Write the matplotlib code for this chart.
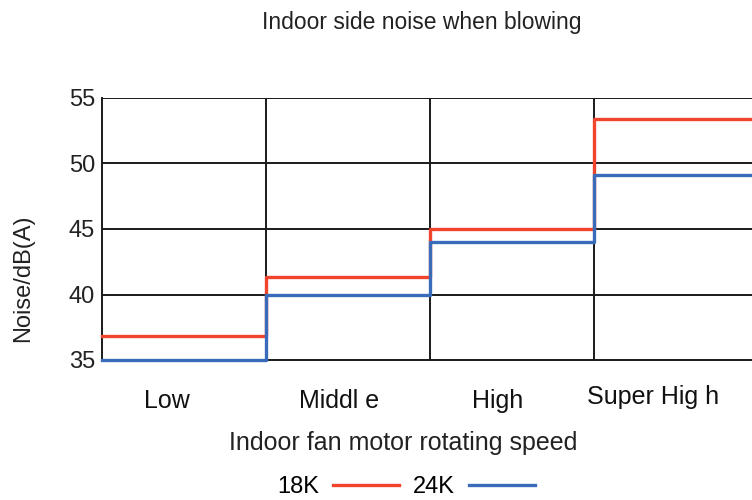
import matplotlib
matplotlib.use("Agg")
import matplotlib.pyplot as plt
from matplotlib.lines import Line2D
import matplotlib.transforms as mtransforms

plt.rcParams['font.family'] = ['Liberation Sans', 'DejaVu Sans']

categories = ["Low", "Middl e", "High", "Super Hig h"]
series_names = ["18K", "24K"]
noise_18k = [36.8, 41.3, 45.0, 53.4]
noise_24k = [35.0, 40.0, 44.0, 49.1]
yticks = [35, 40, 45, 50, 55]

red = "#F0442C"
blue = "#3A6BBA"

fig = plt.figure(figsize=(7.52, 5.0), dpi=100)
ax = fig.add_axes([102/752, 1-360/500, 656/752, 262/500])

n = len(categories)
xs = list(range(n + 1))
ax.step(xs, noise_18k + [noise_18k[-1]], where='post', color=red, lw=2.4, zorder=3, clip_on=False)
ax.step(xs, noise_24k + [noise_24k[-1]], where='post', color=blue, lw=2.4, zorder=4, clip_on=False)

ax.set_xlim(0, n)
ax.set_ylim(35, 55)
ax.set_yticks(yticks)
ax.set_yticklabels([str(t) for t in yticks], fontsize=17, color="#222222")
ax.tick_params(axis='y', length=0, pad=5)
ax.set_xticks([])

for y in yticks[1:]:
    ax.axhline(y, color='#1a1a1a', lw=1.4, zorder=1)
for x in range(1, n):
    ax.axvline(x, color='#1a1a1a', lw=1.4, zorder=1)

for s in ['top', 'right']:
    ax.spines[s].set_visible(False)
ax.spines['left'].set_color('#1a1a1a')
ax.spines['left'].set_linewidth(1.4)
ax.spines['bottom'].set_color('#1a1a1a')
ax.spines['bottom'].set_linewidth(1.4)

trans = mtransforms.blended_transform_factory(ax.transData, ax.transAxes)
label_x = [0.396, 1.445, 2.41, 3.36]
label_y = [-0.157, -0.157, -0.157, -0.142]
for lx, ly, lab in zip(label_x, label_y, categories):
    ax.text(lx, ly, lab, transform=trans, ha='center', va='center', fontsize=18, color='#111111')

ax.set_ylabel("Noise/dB(A)", fontsize=17, color="#222222")
ax.yaxis.set_label_coords(-0.104, 0.313)

fig.text(422/752, 1-22/500, "Indoor side noise when blowing", ha='center', va='center', fontsize=16.5, color='#222222')
fig.text(403/752, 1-443/500, "Indoor fan motor rotating speed", ha='center', va='center', fontsize=18, color='#222222')

handles = [Line2D([], [], color=red, lw=2.4), Line2D([], [], color=blue, lw=2.4)]
fig.legend(handles, series_names, loc='center', bbox_to_anchor=(406/752, 1-487/500), ncol=2,
           frameon=False, markerfirst=False, fontsize=17, handlelength=2.8,
           columnspacing=0.6, handletextpad=0.6)

fig.savefig("out.png", dpi=100)
